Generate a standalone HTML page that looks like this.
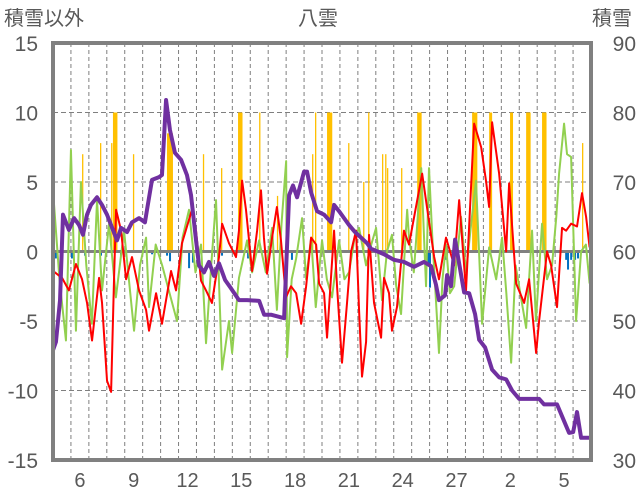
<!DOCTYPE html>
<html><head><meta charset="utf-8">
<style>
html,body{margin:0;padding:0;background:#fff;}
svg{display:block;font-family:"Liberation Sans","Noto Sans CJK JP",sans-serif;}
</style></head>
<body>
<svg id="chart" width="636" height="501" viewBox="0 0 636 501" xmlns="http://www.w3.org/2000/svg">
<text x="4" y="25" font-size="20" fill="#595959">積雪以外</text>
<text x="318" y="25" font-size="20" fill="#595959" text-anchor="middle">八雲</text>
<text x="632" y="25" font-size="20" fill="#595959" text-anchor="end">積雪</text>
<g id="grid"></g>
<g id="bars"></g>
<g id="lines"></g>
<g id="axes"></g>
</svg>
<script>
// time values below are in "sample units" (1 unit = 0.969 day); TS converts to days
const xTickLabels = ["6","9","12","15","18","21","24","27","2","5"];
const xTickDay = [1.5,4.5,7.5,10.5,13.5,16.5,19.5,22.5,25.5,28.5];
const leftTicks = [15,10,5,0,-5,-10,-15];
const rightTicks = [90,80,70,60,50,40,30];

const redT = [0,0.49,0.86,1.24,1.57,1.84,2.11,2.49,2.65,2.92,3.14,3.3,3.41,3.68,3.95,4.27,4.65,5.03,5.19,5.57,5.89,6.38,6.65,6.97,7.51,7.73,8.0,8.27,8.59,8.97,9.14,9.51,9.89,10.05,10.22,10.43,10.76,11.03,11.24,11.4,11.57,11.84,12.1,12.32,12.59,12.86,13.14,13.41,13.68,13.95,14.22,14.38,14.65,14.81,15.19,15.35,15.62,15.89,16.11,16.38,16.54,16.7,16.92,17.08,17.35,17.73,17.89,18.16,18.32,18.59,18.97,19.24,19.95,20.6,20.86,21.24,21.68,21.95,22.32,22.76,23.14,23.41,23.57,23.73,24.11,24.49,24.65,25.03,25.46,25.73,26.11,26.27,26.7,26.92,27.24,27.51,27.73,28.0,28.32,28.59,28.81,29];
const redV = [-1.4,-1.9,-2.8,-0.9,-2,-3.7,-6.4,-1.9,-3.7,-9.3,-10.1,-1.9,3,1.5,-2,-0.4,-2.8,-4.2,-5.7,-3,-5.2,-1.4,-2.8,0.6,3,1.5,-2.1,-2.8,-3.7,-0.4,2,0.6,-0.4,1.5,5.1,3,-1.4,1.5,4.4,1,-1.6,1,3.2,0.8,-3.3,-2.5,-3,-5.2,-2.5,1,0.5,-2.3,-3,-6.2,1.5,-2.5,-8,-3.7,0,1.5,-4.2,-9,-6.5,1.2,-3.7,-6.2,-1.9,-3,-5.7,-4,1.5,0.5,5.6,-0.4,-2,1,-1,3.7,-2.8,9.2,7.5,5,3.2,9.3,5.6,0,4.9,-2.3,-3.7,-2,-7.3,-5,0,-1,-4,1.7,1.5,2,1.8,4.2,2.5,0.3];

const greenT = [0,0.35,0.7,0.97,1.24,1.51,1.8,2.1,2.38,2.65,3.03,3.4,3.84,4.1,4.38,4.7,5.03,5.19,5.55,5.9,6.3,6.7,7.0,7.35,7.7,8.0,8.27,8.55,8.81,9.14,9.51,9.68,10.05,10.49,10.76,11.14,11.5,11.84,12.1,12.35,12.6,12.65,12.9,13.14,13.46,13.68,13.95,14.2,14.54,14.8,15.08,15.46,15.75,16.0,16.3,16.54,16.92,17.2,17.46,17.78,18.05,18.32,18.55,18.81,19.14,19.24,19.5,19.9,20.16,20.32,20.5,20.86,21.05,21.24,21.45,21.68,22.05,22.32,22.6,22.86,23.19,23.57,23.95,24.27,24.5,24.76,25.0,25.19,25.57,25.89,26.1,26.43,26.7,26.97,27.2,27.35,27.62,27.78,28.0,28.27,28.54,28.8,29];
const greenV = [4.4,-2,-6.4,7.3,-5.7,5,-1,-5.2,3.7,-2.8,2,-3.3,1.5,-2,-5.7,-1,1,-4,0.5,-1,-3,-5,1,3,-1.5,0.5,-6.6,-1,3.7,-8.5,-5,-7.3,-1.9,0.8,-1.5,0.8,-1.5,1.7,-4.2,2,6.5,-7.6,-2,-0.5,2.4,-2,1,-4,0.8,-2,-3.3,0.8,-2,-1.5,1,1.7,-1,0.5,1.7,-3.5,0,1.2,-2.5,-4.5,3,1,-1.5,6,-2.5,6,1,-7.3,-2,0.5,-3,-2.5,2.5,-1.5,2,5.1,-5.2,0.3,-2,1,-3,-8,-1,-2.5,-5.5,1.5,-5,2,-2,-1,2.5,5.6,9.2,7,6.8,-5,0,0.5,-2.3];

const snowT = [0,0.16,0.38,0.54,0.86,1.14,1.41,1.62,1.84,2.05,2.38,2.65,2.92,3.14,3.46,3.68,4.0,4.27,4.65,4.97,5.08,5.35,5.73,5.89,6.11,6.32,6.59,6.92,7.24,7.46,7.73,7.89,8.16,8.43,8.7,8.97,9.3,9.62,10.05,10.49,11.14,11.41,11.78,12.49,12.76,12.97,13.19,13.57,13.73,13.95,14.27,14.65,15.03,15.19,15.46,15.73,16.0,16.32,16.65,16.97,17.19,17.89,18.43,18.97,19.51,20.05,20.43,20.7,20.86,21.19,21.3,21.51,21.73,22.0,22.22,22.49,22.81,23.03,23.35,23.73,24.11,24.49,24.81,25.19,26.27,26.54,27.24,27.62,27.89,28.11,28.32,28.54,29];
const snowV = [45.8,47,53,65.3,63.1,64.8,63.8,62.4,65.3,66.7,67.8,66.7,65.3,63.8,61.6,63.4,62.8,64.2,64.8,64.2,66,70.3,70.7,71,81.8,77.5,74.2,73.2,71,68.1,61.6,58,57,58.5,56.5,58.3,55.9,54.7,53,53,52.9,50.9,50.9,50.4,68.1,69.5,67.8,71.5,71.5,68.5,65.8,65.3,64.2,66.7,65.8,64.8,63.8,62.8,62,61.2,60.4,59.6,58.8,58.5,57.8,58.5,57.9,55.2,53,53.7,56.6,55,61.7,57.5,54.1,54,51,47.3,46.2,43,41.9,41.6,40,38.8,38.8,38,38,35.6,33.9,34,36.9,33.2,33.2];

const precipT = [1.57,2.54,3.14,3.24,4.32,6.16,8.1,9.08,10.0,11.14,12.1,14.0,14.16,14.81,15.95,16.76,17.03,17.78,17.95,18.05,18.81,19.68,22.65,23.57,24.7,25.57,26.43,28.59];
const precipHours = [1,1,1,6,1,8,1,1,6,1,1,1,1,7,1,1,1,1,1,1,1,6,7,4,4,6,6,1];
const precipV = [7,7.8,7.8,10,7,8.5,7,6,10,10,4,7,10,10,7.8,5,10,7,7,6,6,10,10,10,10,10,10,7.8];

const negT = [0.1,0.97,1.68,2.54,3.62,5.3,6.11,6.27,7.3,7.51,7.84,9.08,9.84,10.49,12.86,20.22,20.32,21.19,27.68,27.78,27.95,28.16,28.32];
const negV = [-0.5,-0.5,-0.3,-0.3,-0.3,-0.2,-0.3,-0.7,-1.2,-0.8,-0.5,-0.3,-0.3,-0.5,-0.6,-1,-2.6,-0.6,-0.6,-1.3,-0.6,-0.6,-0.5];

const X0=53, X1=591, Y0=43, Y1=460, DAYS=30, TS=1.0318;
const NS="http://www.w3.org/2000/svg";
function xd(d){return X0+ (d/DAYS)*(X1-X0);}
function xs(t){return xd(t*TS);}
function yl(v){return Y1 - (v+15)/30*(Y1-Y0);}
function yr(v){return Y1 - (v-30)/60*(Y1-Y0);}
function mk(tag,attrs,parent){const e=document.createElementNS(NS,tag);for(const k in attrs)e.setAttribute(k,attrs[k]);parent.appendChild(e);return e;}
const grid=document.getElementById('grid'), bars=document.getElementById('bars'), lines=document.getElementById('lines'), axes=document.getElementById('axes');

for(let d=1; d<DAYS; d++){
  const l=mk('line',{x1:xd(d),x2:xd(d),y1:Y0,y2:Y1,stroke:'#7f7f7f','stroke-width':1,'stroke-dasharray':'4,3'},grid);
  
  
}
leftTicks.forEach((v,i)=>{
  if(v!==15 && v!==-15 && v!==0){
    const l=mk('line',{x1:X0,x2:X1,y1:yl(v),y2:yl(v),stroke:'#7f7f7f','stroke-width':1,'stroke-dasharray':'5,3'},grid);
    
    
  }
  const t=mk('text',{x:38,y:yl(v)+8,'font-size':21,fill:'#595959','text-anchor':'end'},axes);
  t.textContent=String(v);
  
  
});
rightTicks.forEach(v=>{
  const t=mk('text',{x:636,y:yr(v)+8,'font-size':21,fill:'#595959','text-anchor':'end'},axes);
  t.textContent=String(v);
  
  
});
xTickLabels.forEach((s,i)=>{
  const t=mk('text',{x:xd(xTickDay[i]),y:487,'font-size':20,fill:'#595959','text-anchor':'middle'},axes);
  t.textContent=s;
  
  
});
precipT.forEach((t,i)=>{
  const w=Math.max(1.3, precipHours[i]/24*(X1-X0)/DAYS);
  const r=mk('rect',{x:xs(t),y:yl(precipV[i]),width:w,height:yl(0)-yl(precipV[i]),fill:'#FFC000'},bars);
  
  
});
negT.forEach((t,i)=>{
  const r=mk('rect',{x:xs(t),y:yl(0),width:2,height:yl(negV[i])-yl(0),fill:'#0070C0'},bars);
  
  
});
const z=mk('line',{x1:X0,x2:X1,y1:yl(0),y2:yl(0),stroke:'#808080','stroke-width':3},bars);


function poly(T,V,f,color,w,name){
  const p=mk('polyline',{points:T.map((t,i)=>xs(t)+','+f(V[i])).join(' '),fill:'none',stroke:color,'stroke-width':w,'stroke-linejoin':'round'},lines);
  
  
}
poly(greenT,greenV,yl,'#92D050',2,'green-series-line');
poly(redT,redV,yl,'#FF0000',2,'red-series-line');
poly(snowT,snowV,yr,'#7030A0',4,'snow-depth-line');
const b=mk('rect',{x:X0,y:Y0,width:X1-X0,height:Y1-Y0,fill:'none',stroke:'#808080','stroke-width':4},axes);


</script>
</body></html>
